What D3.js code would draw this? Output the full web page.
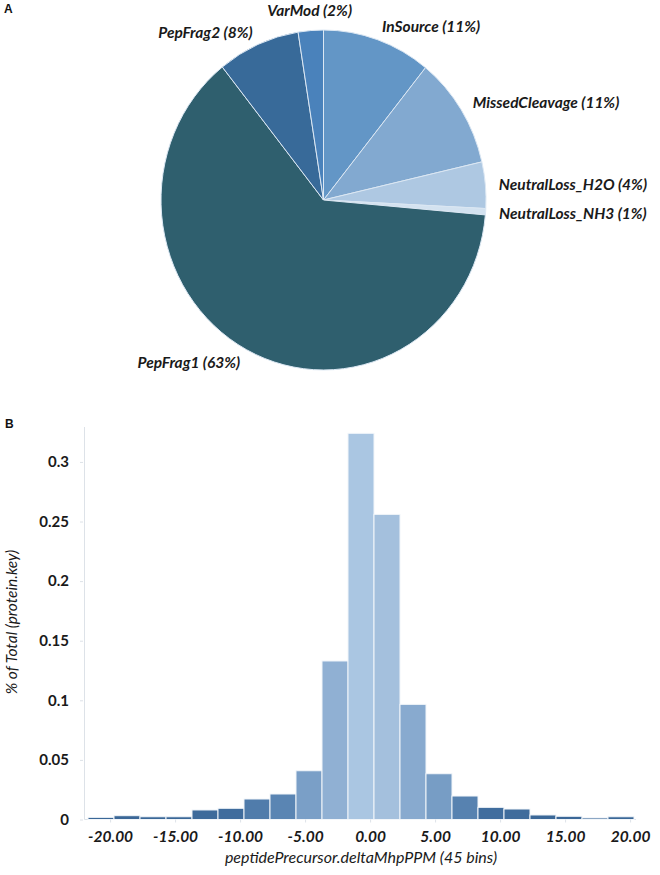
<!DOCTYPE html>
<html><head><meta charset="utf-8">
<script src="https://cdn.jsdelivr.net/npm/d3@7"></script>
<style>body{margin:0;background:#fff;} svg{display:block;font-family:Lato,'Open Sans',sans-serif;}</style>
</head><body><svg id="c" width="660" height="875"></svg>
<script>
// ---- Panel A: pie ----
const pieCategories = ["InSource","MissedCleavage","NeutralLoss_H2O","NeutralLoss_NH3","PepFrag1","PepFrag2","VarMod"];
const pieValues = [10.8, 10.6, 4.4, 0.6, 62.9, 8.2, 2.5];
const pieLabels = ["InSource (11%)","MissedCleavage (11%)","NeutralLoss_H2O (4%)","NeutralLoss_NH3 (1%)","PepFrag1 (63%)","PepFrag2 (8%)","VarMod (2%)"];
const pieColors = ["#6396c6","#82a9d0","#aec8e2","#d3e2f0","#2f5f6e","#386a99","#4a82bb"];

// ---- Panel B: histogram ----
const binStarts = [-21.7,-19.7,-17.7,-15.7,-13.7,-11.7,-9.7,-7.7,-5.7,-3.7,-1.7,0.3,2.3,4.3,6.3,8.3,10.3,12.3,14.3,16.3,18.3];
const binValues = [0.0018,0.0032,0.0023,0.0023,0.0080,0.0094,0.0172,0.0214,0.0409,0.1330,0.3240,0.2560,0.0966,0.0384,0.0197,0.0102,0.0088,0.0038,0.0027,0.0013,0.0023];
const yTicks = [0,0.05,0.1,0.15,0.2,0.25,0.3];
const yTickLabels = ["0","0.05","0.1","0.15","0.2","0.25","0.3"];
const xTicks = [-20,-15,-10,-5,0,5,10,15,20];
const xTickLabels = ["-20.00","-15.00","-10.00","-5.00","0.00","5.00","10.00","15.00","20.00"];

const svg = d3.select("#c");

// Panel letters
svg.append("text").attr("x",4).attr("y",13).attr("font-family","Liberation Sans, Arial, sans-serif")
  .attr("font-weight","bold").attr("font-size",12).attr("fill","#111").text("A");
svg.append("text").attr("x",5).attr("y",428).attr("font-family","Liberation Sans, Arial, sans-serif")
  .attr("font-weight","bold").attr("font-size",12).attr("fill","#111").text("B");

// Pie
const cx = 323.5, cy = 200, R = 162.5, sy = 1.046;
const pie = d3.pie().sort(null).value(d => d.v);
const arcs = pie(pieCategories.map((c,i)=>({c, v: pieValues[i], label: pieLabels[i], color: pieColors[i]})));
const arc = d3.arc().innerRadius(0).outerRadius(R);
const gPie = svg.append("g").attr("transform",`translate(${cx},${cy}) scale(1,${sy})`);
gPie.selectAll("path").data(arcs).join("path")
  .attr("d", arc).attr("fill", d => d.data.color)
  .attr("stroke","#dbe7f3").attr("stroke-width",1).attr("vector-effect","non-scaling-stroke");

const LR = 176;
svg.append("g").selectAll("text").data(arcs).join("text")
  .each(function(d){
    const a = (d.startAngle + d.endAngle)/2;
    const s = Math.sin(a), c = Math.cos(a);
    let x = cx + LR*s, y = cy - LR*sy*c;
    let anchor = "middle";
    if (s > 0.3) anchor = "start"; else if (s < -0.3) anchor = "end"; else y -= 6;
    d3.select(this).attr("x",x).attr("y",y).attr("text-anchor",anchor);
  })
  .attr("dominant-baseline","central")
  .attr("font-size",15.5).attr("font-weight","bold").attr("font-style","italic").attr("fill","#1a1a1a")
  .text(d => d.data.label);

// Histogram
const x = d3.scaleLinear().domain([-21.7, 20.3]).range([88, 634]);
const y = d3.scaleLinear().domain([0, 0.3293]).range([819.5, 427]);
const binWidth = 2;
const color = d3.scaleLinear()
  .domain([0, 0.005, 0.012, 0.02, 0.04, 0.1, 0.2, 0.33])
  .range(["#3a6696","#3b6898","#426fa0","#5883b1","#7a9fc7","#89abd0","#9ebbda","#abc7e2"]);

const gH = svg.append("g");
gH.append("line").attr("x1",84.5).attr("x2",84.5).attr("y1",427).attr("y2",819.5).attr("stroke","#dde2e8");
gH.append("line").attr("x1",84.5).attr("x2",636).attr("y1",819.5).attr("y2",819.5).attr("stroke","#dde2e8");

gH.selectAll("rect").data(binStarts).join("rect")
  .attr("x", (d)=>x(d)).attr("width",(d)=>x(d+binWidth)-x(d))
  .attr("y",(d,i)=>y(binValues[i])).attr("height",(d,i)=>y(0)-y(binValues[i]))
  .attr("fill",(d,i)=>color(binValues[i]))
  .attr("stroke","#f2f6fa").attr("stroke-width",1);

// y axis
const yAxis = d3.axisLeft(y).tickValues(yTicks).tickSize(3).tickPadding(11)
  .tickFormat((d,i)=>yTickLabels[i]);
const gy = gH.append("g").attr("transform","translate(83,0)").call(yAxis);
gy.select(".domain").remove();
gy.selectAll(".tick line").attr("stroke","#dde2e8");
gy.selectAll(".tick text").attr("font-family","Lato, 'Open Sans', sans-serif")
  .attr("font-size",15).attr("font-weight","bold").attr("fill","#1a1a1a");

// x axis
const xAxis = d3.axisBottom(x).tickValues(xTicks).tickSize(3).tickPadding(8)
  .tickFormat((d,i)=>xTickLabels[i]);
const gx = gH.append("g").attr("transform","translate(0,819.5)").call(xAxis);
gx.select(".domain").remove();
gx.selectAll(".tick line").attr("stroke","#dde2e8");
gx.selectAll(".tick text").attr("font-family","Lato, 'Open Sans', sans-serif")
  .attr("font-size",15.5).attr("font-weight","bold").attr("font-style","italic").attr("fill","#1a1a1a");

// axis titles
svg.append("text").attr("x",361).attr("y",863).attr("text-anchor","middle")
  .attr("font-size",16).attr("font-style","italic").attr("fill","#1a1a1a")
  .text("peptidePrecursor.deltaMhpPPM (45 bins)");
svg.append("text").attr("transform","translate(17,622) rotate(-90)").attr("text-anchor","middle")
  .attr("font-size",15.5).attr("font-style","italic").attr("fill","#1a1a1a")
  .text("% of Total (protein.key)");
</script></body></html>
